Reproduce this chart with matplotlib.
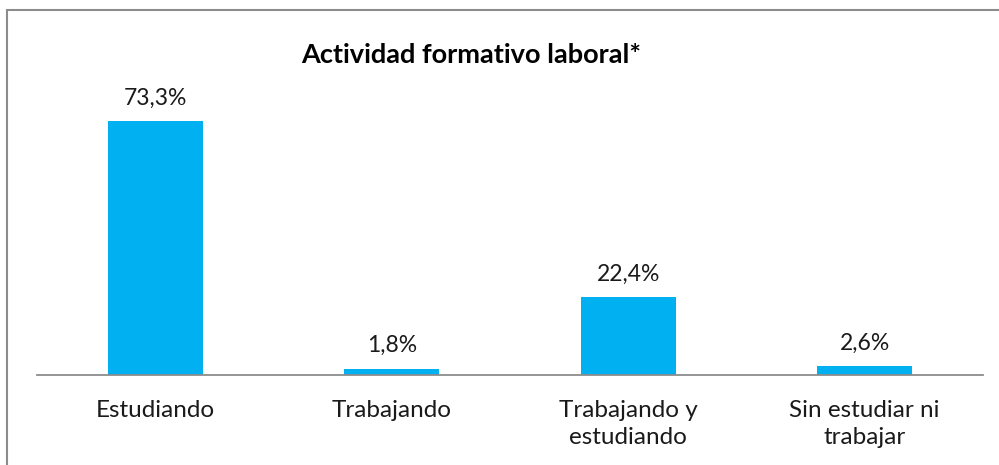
import matplotlib.pyplot as plt
from matplotlib.patches import Rectangle

categories = ["Estudiando", "Trabajando", "Trabajando y\nestudiando", "Sin estudiar ni\ntrabajar"]
values = [73.3, 1.8, 22.4, 2.6]
value_labels = ["73,3%", "1,8%", "22,4%", "2,6%"]
title = "Actividad formativo laboral*"

plt.rcParams['font.family'] = ['Lato', 'DejaVu Sans']

W, H = 999, 465
fig = plt.figure(figsize=(W / 100, H / 100), dpi=100)

# outer frame (only top and left edges visible in the crop)
fig.patches.append(Rectangle((7 / W, -0.1), 1.2, 1 - 10 / H + 0.1, transform=fig.transFigure,
                             fill=False, edgecolor='#8c8c8c', linewidth=1.5))

ax = fig.add_axes([37 / W, (H - 375) / H, 946 / W, 277 / H])
x = range(len(categories))
ax.bar(x, values, width=0.40, color='#00B0F0')
ax.set_xlim(-0.5, 3.5)
ax.set_ylim(0, 80)

for xi, v, lab in zip(x, values, value_labels):
    ax.annotate(lab, (xi, v), xytext=(0, 9), textcoords='offset points',
                ha='center', va='bottom', fontsize=16.5, color='#1a1a1a')

ax.set_xticks(list(x))
ax.set_xticklabels(categories, fontsize=17.5, color='#1a1a1a', linespacing=1.35)
ax.tick_params(axis='x', length=0, pad=18)
ax.set_yticks([])
for side in ['top', 'right', 'left']:
    ax.spines[side].set_visible(False)
ax.spines['bottom'].set_color('#8c8c8c')
ax.spines['bottom'].set_linewidth(1.3)

fig.text(471 / W, 1 - 55 / H, title, ha='center', va='center', fontsize=19.5,
         fontweight='bold', color='black')

fig.savefig('out.png', dpi=100, facecolor='white')
